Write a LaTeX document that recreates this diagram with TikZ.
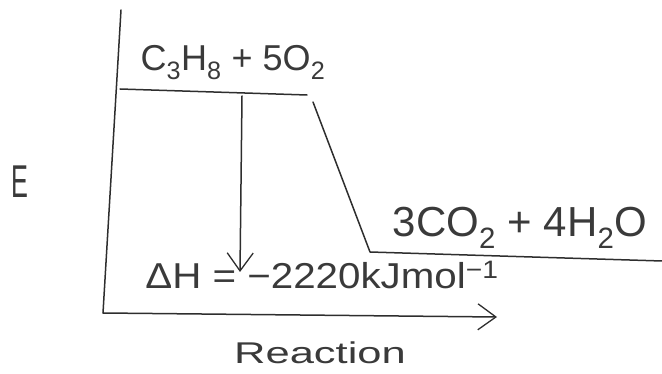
\documentclass[tikz,border=0pt]{standalone}
\usepackage{fontspec}
\setmainfont{Liberation Sans}
\usetikzlibrary{arrows.meta}
\definecolor{ink}{HTML}{2E2E2E}
\definecolor{txt}{HTML}{3A3A3A}
\tikzset{
  stroke/.style={draw=ink, line width=1.5pt, line cap=round, line join=round},
  barb/.style={-{Straight Barb[length=18pt,width=26pt,line width=1.3pt]}},
  lbl/.style={text=txt, inner sep=0pt, anchor=center},
}
\begin{document}
\begin{tikzpicture}[x=1pt,y=-1pt]
\useasboundingbox (0,0) rectangle (662,374);
% coordinates
\coordinate (axTop) at (121,10);
\coordinate (orig) at (103,313);
\coordinate (axEnd) at (497,317);
\coordinate (rL) at (120,89);
\coordinate (rR) at (307,95);
\coordinate (sTop) at (313,102);
\coordinate (pL) at (370,252);
\coordinate (pR) at (662,261);
\coordinate (aTop) at (242,96);
\coordinate (aTip) at (240,272);
% axes
\draw[stroke] (axTop) -- (orig);
\draw[stroke,barb] (orig) -- (axEnd);
% levels
\draw[stroke] (rL) -- (rR);
\draw[stroke] (sTop) -- (pL) -- (pR);
% enthalpy arrow
\draw[stroke,barb] (aTop) -- (aTip);
% labels
\node[lbl] (react) at (233,63) {\fontsize{36}{40}\selectfont C\textsubscript{3}H\textsubscript{8} + 5O\textsubscript{2}};
\node[lbl] (prod) at (520,228) {\fontsize{42}{46}\selectfont 3CO\textsubscript{2} + 4H\textsubscript{2}O};
\node[lbl] (dh) at (322,275) {\fontsize{36}{40}\selectfont\scalebox{1.12}[1]{ΔH = −2220kJmol\textsuperscript{−1}}};
\node[lbl] (E) at (20,182) {\fontsize{46}{50}\selectfont\scalebox{0.55}[1]{E}};
\node[lbl] (rx) at (320,353) {\fontsize{30}{34}\selectfont\scalebox{1.45}[1]{Reaction}};
\end{tikzpicture}
\end{document}
